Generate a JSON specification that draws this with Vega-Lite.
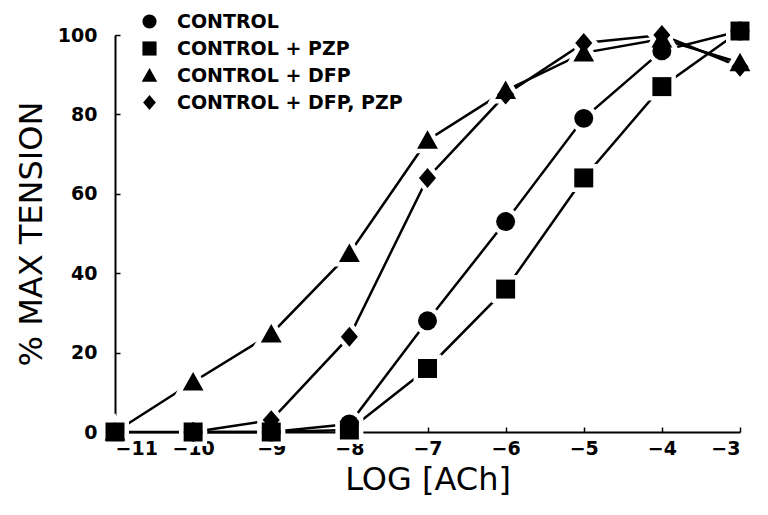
{
  "$schema": "https://vega.github.io/schema/vega-lite/v6.json",
  "autosize": {"type": "none"},
  "padding": {"left": 115, "top": 35, "right": 28, "bottom": 83},
  "width": 625,
  "height": 397,
  "background": "white",
  "config": {
    "view": {"stroke": null},
    "font": "DejaVu Sans"
  },
  "data": {
    "values": [
      {"series": "CONTROL", "logach": -10, "tension": 0},
      {"series": "CONTROL", "logach": -9, "tension": 0},
      {"series": "CONTROL", "logach": -8, "tension": 2},
      {"series": "CONTROL", "logach": -7, "tension": 28},
      {"series": "CONTROL", "logach": -6, "tension": 53},
      {"series": "CONTROL", "logach": -5, "tension": 79},
      {"series": "CONTROL", "logach": -4, "tension": 96},
      {"series": "CONTROL", "logach": -3, "tension": 101},
      {"series": "CONTROL + PZP", "logach": -11, "tension": 0},
      {"series": "CONTROL + PZP", "logach": -10, "tension": 0},
      {"series": "CONTROL + PZP", "logach": -9, "tension": 0},
      {"series": "CONTROL + PZP", "logach": -8, "tension": 0.5},
      {"series": "CONTROL + PZP", "logach": -7, "tension": 16},
      {"series": "CONTROL + PZP", "logach": -6, "tension": 36},
      {"series": "CONTROL + PZP", "logach": -5, "tension": 64},
      {"series": "CONTROL + PZP", "logach": -4, "tension": 87},
      {"series": "CONTROL + PZP", "logach": -3, "tension": 101},
      {"series": "CONTROL + DFP", "logach": -11, "tension": 0},
      {"series": "CONTROL + DFP", "logach": -10, "tension": 12.6},
      {"series": "CONTROL + DFP", "logach": -9, "tension": 24.7},
      {"series": "CONTROL + DFP", "logach": -8, "tension": 45},
      {"series": "CONTROL + DFP", "logach": -7, "tension": 73.5},
      {"series": "CONTROL + DFP", "logach": -6, "tension": 86},
      {"series": "CONTROL + DFP", "logach": -5, "tension": 95.5},
      {"series": "CONTROL + DFP", "logach": -4, "tension": 99},
      {"series": "CONTROL + DFP", "logach": -3, "tension": 93},
      {"series": "CONTROL + DFP, PZP", "logach": -10, "tension": 0},
      {"series": "CONTROL + DFP, PZP", "logach": -9, "tension": 3},
      {"series": "CONTROL + DFP, PZP", "logach": -8, "tension": 24},
      {"series": "CONTROL + DFP, PZP", "logach": -7, "tension": 64},
      {"series": "CONTROL + DFP, PZP", "logach": -6, "tension": 85},
      {"series": "CONTROL + DFP, PZP", "logach": -5, "tension": 98},
      {"series": "CONTROL + DFP, PZP", "logach": -4, "tension": 100},
      {"series": "CONTROL + DFP, PZP", "logach": -3, "tension": 92}
    ]
  },
  "encoding": {
    "x": {
      "field": "logach", "type": "quantitative",
      "scale": {"domain": [-11, -3], "nice": false, "zero": false},
      "axis": {
        "title": "LOG [ACh]", "values": [-11, -10, -9, -8, -7, -6, -5, -4, -3],
        "grid": false, "domainColor": "black", "domainWidth": 2,
        "tickColor": "black", "tickSize": -5, "tickWidth": 1.5,
        "labelFontSize": 19, "labelFontWeight": "bold", "labelColor": "black", "labelPadding": 12,
        "titleFontSize": 32, "titleFontWeight": "normal", "titleColor": "black", "titlePadding": 6
      }
    },
    "y": {
      "field": "tension", "type": "quantitative",
      "scale": {"domain": [0, 100], "nice": false},
      "axis": {
        "title": "% MAX TENSION", "values": [0, 20, 40, 60, 80, 100],
        "grid": false, "domainColor": "black", "domainWidth": 2,
        "tickColor": "black", "tickSize": -5, "tickWidth": 1.5,
        "labelFontSize": 19, "labelFontWeight": "bold", "labelColor": "black", "labelPadding": 23,
        "titleFontSize": 32, "titleFontWeight": "normal", "titleColor": "black", "titlePadding": 9
      }
    }
  },
  "resolve": {"scale": {"shape": "independent"}, "legend": {"shape": "independent"}},
  "layer": [
    {
      "mark": {"type": "line", "color": "black", "strokeWidth": 2.5},
      "encoding": {"detail": {"field": "series"}}
    },
    {
      "mark": {"type": "point", "filled": true, "fill": "white", "stroke": "white", "strokeWidth": 9, "opacity": 1, "size": 360},
      "encoding": {
        "shape": {
          "field": "series", "type": "nominal",
          "scale": {
            "domain": ["CONTROL", "CONTROL + PZP", "CONTROL + DFP", "CONTROL + DFP, PZP"],
            "range": ["circle", "square", "M0,-1.05L1.1,0.9L-1.1,0.9Z", "M0,-1.05L0.9,0L0,1.05L-0.9,0Z"]
          },
          "legend": null
        }
      }
    },
    {
      "mark": {"type": "point", "filled": true, "fill": "black", "strokeWidth": 0, "opacity": 1, "size": 360},
      "encoding": {
        "shape": {
          "field": "series", "type": "nominal",
          "scale": {
            "domain": ["CONTROL", "CONTROL + PZP", "CONTROL + DFP", "CONTROL + DFP, PZP"],
            "range": ["circle", "square", "M0,-1.05L1.1,0.9L-1.1,0.9Z", "M0,-1.05L0.9,0L0,1.05L-0.9,0Z"]
          },
          "legend": {
            "title": null, "orient": "none", "legendX": 25, "legendY": -23,
            "symbolFillColor": "black", "symbolStrokeColor": "black", "symbolStrokeWidth": 0,
            "symbolSize": 200, "symbolOpacity": 1,
            "labelFontSize": 19, "labelColor": "black", "labelFontWeight": "bold", "labelLimit": 0,
            "labelOffset": 18, "rowPadding": 7,
            "encode": {"symbols": {"update": {"fill": {"value": "black"}, "stroke": {"value": "black"}, "strokeWidth": {"value": 0}}}}
          }
        }
      }
    }
  ]
}
